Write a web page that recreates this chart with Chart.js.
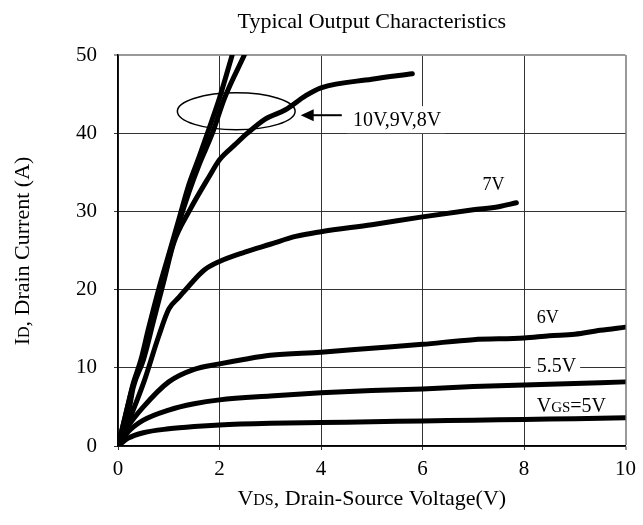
<!DOCTYPE html>
<html>
<head>
<meta charset="utf-8">
<script src="https://cdn.jsdelivr.net/npm/chart.js@4.4.1/dist/chart.umd.min.js"></script>
<style>
  html, body { margin: 0; padding: 0; background: #fff; }
  #wrap { width: 643px; height: 525px; }
</style>
</head>
<body>
<div id="wrap"><canvas id="outChart"></canvas></div>
<script>
// curves: VDS (V) against ID (A)
const vds10V = [0, 0.15, 0.3, 0.45, 0.6, 0.8, 1.0, 1.2, 1.4, 1.6, 1.8, 2.0, 2.25];
const id10V  = [0, 4, 8, 11, 15, 20, 24.5, 29, 33.5, 37, 40.7, 44.5, 50];
const vds9V  = [0, 0.15, 0.3, 0.45, 0.6, 0.8, 1.0, 1.2, 1.4, 1.6, 1.86, 2.1, 2.49];
const id9V   = [0, 4, 7.8, 10.5, 14, 19.5, 24, 28.5, 32.5, 36, 40, 44.5, 50];
const vds8V  = [0, 0.2, 0.3, 0.5, 0.7, 0.9, 1.1, 1.4, 1.8, 2.0, 2.3, 2.55, 2.9, 3.3, 3.7, 4.0, 5.0, 5.8];
const id8V   = [0, 4, 7.5, 11, 16, 21, 26, 30, 34.5, 36.6, 38.5, 40, 41.8, 43, 44.8, 45.8, 46.9, 47.6];
const vds7V  = [0, 0.2, 0.5, 0.8, 1.0, 1.2, 1.4, 1.7, 2.0, 2.5, 3.0, 3.5, 4.0, 5.0, 6.0, 7.0, 7.5, 7.85];
const id7V   = [0, 3, 8, 14, 17.5, 19, 20.5, 22.5, 23.6, 24.8, 25.8, 26.8, 27.4, 28.3, 29.3, 30.2, 30.6, 31.1];
const vds6V  = [0, 0.2, 0.5, 1.0, 1.5, 2.0, 2.5, 3.0, 4.0, 5.0, 6.0, 7.0, 8.0, 8.5, 9.0, 9.5, 10];
const id6V   = [0, 2.5, 5, 8.2, 9.8, 10.5, 11.1, 11.6, 12.0, 12.5, 13.0, 13.6, 13.8, 14.1, 14.3, 14.8, 15.2];
const vds55V = [0, 0.2, 0.5, 1, 1.5, 2, 3, 4, 5, 6, 7, 8, 9, 10];
const id55V  = [0, 1.8, 3.3, 4.6, 5.4, 5.9, 6.4, 6.8, 7.1, 7.3, 7.6, 7.8, 8.0, 8.2];
const vds5V  = [0, 0.2, 0.5, 1, 1.5, 2, 3, 4, 5, 6, 7, 8, 9, 10];
const id5V   = [0, 1.0, 1.7, 2.2, 2.5, 2.7, 2.9, 3.0, 3.1, 3.2, 3.3, 3.4, 3.5, 3.6];

const xTicks = [0, 2, 4, 6, 8, 10];
const yTicks = [0, 10, 20, 30, 40, 50];

// curve labels: text runs [text, size], left x, centre y (data units), white box or not
const curveLabels = [
  { runs: [['10V,9V,8V', 20]], x: 4.63, y: 41.8, box: true },
  { runs: [['7V', 18]], x: 7.18, y: 33.6, box: false },
  { runs: [['6V', 18]], x: 8.25, y: 16.6, box: false },
  { runs: [['5.5V', 20]], x: 8.25, y: 10.35, box: true },
  { runs: [['V', 20], ['GS', 15], ['=5V', 20]], x: 8.25, y: 5.2, box: false }
];

const FONT = "'Liberation Serif', 'Times New Roman', serif";

function pts(xs, ys) {
  return xs.map((v, i) => ({ x: v, y: ys[i] }));
}

function runsWidth(ctx, runs) {
  let w = 0;
  runs.forEach(r => { ctx.font = r[1] + 'px ' + FONT; w += ctx.measureText(r[0]).width; });
  return w;
}

function drawRuns(ctx, runs, x, y) {
  runs.forEach(r => {
    ctx.font = r[1] + 'px ' + FONT;
    ctx.fillText(r[0], x, y);
    x += ctx.measureText(r[0]).width;
  });
}

const extras = {
  id: 'extras',
  afterDatasetsDraw(chart) {
    const ctx = chart.ctx, xs = chart.scales.x, ys = chart.scales.y;
    ctx.save();
    ctx.strokeStyle = '#000';
    ctx.fillStyle = '#000';

    // ellipse round the 10V/9V/8V bundle
    const cx = xs.getPixelForValue(2.33), cy = ys.getPixelForValue(42.8);
    const rx = xs.getPixelForValue(2.33 + 1.16) - cx;
    const ry = cy - ys.getPixelForValue(42.8 + 2.37);
    ctx.lineWidth = 1.5;
    ctx.beginPath();
    ctx.ellipse(cx, cy, rx, ry, 0, 0, Math.PI * 2);
    ctx.stroke();

    // arrow pointing at the ellipse
    const ax0 = xs.getPixelForValue(4.41), ax1 = xs.getPixelForValue(3.6), ay = ys.getPixelForValue(42.3);
    ctx.lineWidth = 2;
    ctx.beginPath();
    ctx.moveTo(ax0, ay);
    ctx.lineTo(ax1 + 10, ay);
    ctx.stroke();
    ctx.beginPath();
    ctx.moveTo(ax1, ay);
    ctx.lineTo(ax1 + 13, ay - 6);
    ctx.lineTo(ax1 + 13, ay + 6);
    ctx.closePath();
    ctx.fill();

    // labels
    ctx.textBaseline = 'alphabetic';
    curveLabels.forEach(l => {
      const px = xs.getPixelForValue(l.x), py = ys.getPixelForValue(l.y);
      const w = runsWidth(ctx, l.runs);
      if (l.box) {
        ctx.fillStyle = '#fff';
        ctx.fillRect(px - 6, py - 13, w + 10, 27);
      }
      ctx.fillStyle = '#000';
      drawRuns(ctx, l.runs, px, py + 7);
    });
    ctx.restore();
  },
  afterDraw(chart) {
    const ctx = chart.ctx, area = chart.chartArea;
    const midX = (area.left + area.right) / 2;
    ctx.save();
    ctx.fillStyle = '#000';
    ctx.textBaseline = 'alphabetic';

    // title
    ctx.font = '22px ' + FONT;
    ctx.textAlign = 'center';
    ctx.fillText('Typical Output Characteristics', midX, 28);

    ctx.textAlign = 'left';
    // x axis title
    const xRuns = [['V', 22], ['DS', 16], [', Drain-Source Voltage(V)', 22]];
    drawRuns(ctx, xRuns, midX - runsWidth(ctx, xRuns) / 2, 505);

    // y axis title
    const yRuns = [['I', 22], ['D', 16], [', Drain Current (A)', 22]];
    ctx.translate(29, 251);
    ctx.rotate(-Math.PI / 2);
    drawRuns(ctx, yRuns, -runsWidth(ctx, yRuns) / 2, 0);
    ctx.restore();
  }
};

function curve(xs, ys) {
  return {
    data: pts(xs, ys),
    borderColor: '#000',
    borderWidth: 5,
    pointRadius: 0,
    fill: false,
    cubicInterpolationMode: 'monotone',
    borderCapStyle: 'round',
    borderJoinStyle: 'round'
  };
}

new Chart(document.getElementById('outChart'), {
  type: 'line',
  data: {
    datasets: [
      curve(vds10V, id10V),
      curve(vds9V, id9V),
      curve(vds8V, id8V),
      curve(vds7V, id7V),
      curve(vds6V, id6V),
      curve(vds55V, id55V),
      curve(vds5V, id5V)
    ]
  },
  options: {
    responsive: true,
    maintainAspectRatio: false,
    animation: false,
    layout: { padding: { top: 55, right: 15, left: 0, bottom: 0 } },
    plugins: { legend: { display: false }, tooltip: { enabled: false } },
    scales: {
      x: {
        type: 'linear',
        min: xTicks[0],
        max: xTicks[xTicks.length - 1],
        afterBuildTicks: s => { s.ticks = xTicks.map(v => ({ value: v })); },
        afterFit: s => { s.height = 79; },
        ticks: { color: '#000', font: { family: FONT, size: 21 }, padding: 7, maxRotation: 0 },
        grid: {
          color: c => c.tick && c.tick.value === 10 ? '#999' : '#333',
          lineWidth: c => c.tick && c.tick.value === 10 ? 2 : 1,
          tickLength: 4
        },
        border: { color: '#000', width: 1.5 }
      },
      y: {
        min: yTicks[0],
        max: yTicks[yTicks.length - 1],
        afterBuildTicks: s => { s.ticks = yTicks.map(v => ({ value: v })); },
        afterFit: s => { s.width = 118; },
        ticks: { color: '#000', font: { family: FONT, size: 21 }, padding: 17 },
        grid: {
          color: c => c.tick && c.tick.value === 50 ? '#999' : '#333',
          lineWidth: c => c.tick && c.tick.value === 50 ? 2 : 1,
          tickLength: 4
        },
        border: { color: '#000', width: 1.5 }
      }
    }
  },
  plugins: [extras]
});
</script>
</body>
</html>
